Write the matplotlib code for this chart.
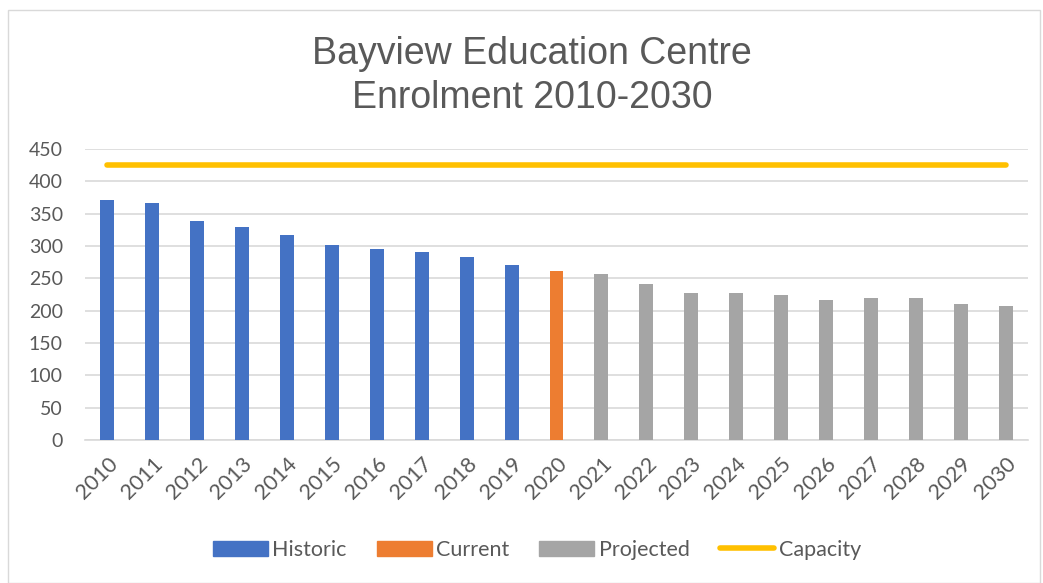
import matplotlib
matplotlib.use("Agg")
import matplotlib.pyplot as plt
from matplotlib.patches import Rectangle, Patch
from matplotlib.lines import Line2D

years = [str(y) for y in range(2010, 2031)]
historic = [371, 366, 339, 330, 317, 302, 296, 290, 283, 271]
current = [262]
projected = [256, 242, 227, 228, 224, 216, 220, 219, 211, 207]
capacity = 425

c_hist = "#4472C4"
c_cur = "#ED7D31"
c_proj = "#A5A5A5"
c_cap = "#FFC000"
txt = "#595959"

plt.rcParams['font.family'] = ['Lato', 'DejaVu Sans']

fig = plt.figure(figsize=(10.43, 5.83), dpi=100)
ax = fig.add_axes([85/1043, 1-440/583, (1028-85)/1043, (440-149)/583])

x = list(range(len(years)))
w = 0.31
ax.bar(x[:10], historic, width=w, color=c_hist, zorder=3, label="Historic")
ax.bar(x[10:11], current, width=w, color=c_cur, zorder=3, label="Current")
ax.bar(x[11:], projected, width=w, color=c_proj, zorder=3, label="Projected")
ax.plot([x[0], x[-1]], [capacity, capacity], color=c_cap, lw=4,
        solid_capstyle="round", zorder=4, label="Capacity")

ax.set_xlim(-0.5, 20.5)
ax.set_ylim(0, 450)
ax.set_yticks(range(0, 451, 50))
ax.set_xticks(x)
ax.set_xticklabels(years, rotation=45, ha="right", rotation_mode="anchor")
ax.yaxis.grid(True, color="#D9D9D9", lw=1.2, zorder=0)
for s in ["top", "right", "left"]:
    ax.spines[s].set_visible(False)
ax.spines["bottom"].set_color("#D9D9D9")
ax.spines["bottom"].set_linewidth(1.2)
ax.tick_params(axis="both", length=0, colors=txt)
ax.tick_params(axis="y", pad=16, labelsize=14)
ax.tick_params(axis="x", pad=10, labelsize=15.5)

fig.text(532/1043, 1-76/583, "Bayview Education Centre\nEnrolment 2010-2030",
         ha="center", va="center", fontsize=27, color=txt,
         family=["Liberation Sans"], linespacing=1.32)

handles = [Patch(color=c_hist), Patch(color=c_cur), Patch(color=c_proj),
           Line2D([0], [0], color=c_cap, lw=4, solid_capstyle="round")]
fig.legend(handles, ["Historic", "Current", "Projected", "Capacity"],
           loc="center", bbox_to_anchor=(537/1043, 1-550/583), ncol=4,
           frameon=False, fontsize=15.5, labelcolor=txt, handlelength=2.55,
           handleheight=0.7, handletextpad=0.2, columnspacing=1.4)

fig.patches.append(Rectangle((8/1043, 0), 1 - 11/1043, 1 - 10/583,
                             transform=fig.transFigure, fill=False,
                             edgecolor="#D9D9D9", lw=1))

fig.savefig("out.png", dpi=100)
